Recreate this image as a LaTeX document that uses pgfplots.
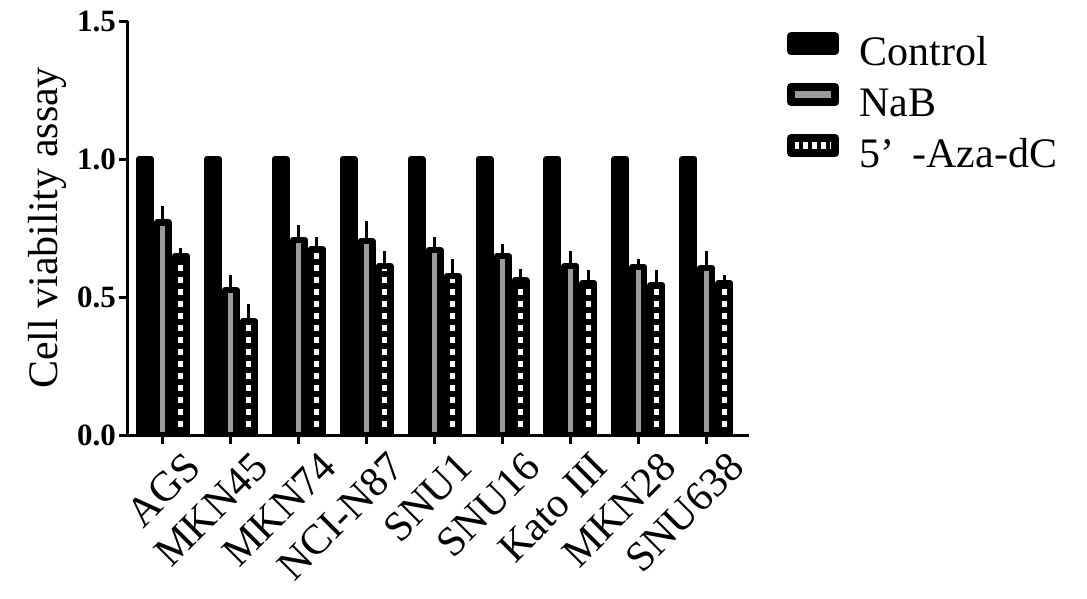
\documentclass[border=0pt]{standalone}
\usepackage{fontspec}
\setmainfont{Liberation Serif}
\usepackage{pgfplots}
\pgfplotsset{compat=1.18}
\usetikzlibrary{patterns.meta}
\definecolor{nabgray}{RGB}{155,155,155}
\begin{document}
\begin{tikzpicture}
\useasboundingbox (-128pt,-163pt) rectangle (959pt,435pt);
\begin{axis}[
  scale only axis, width=621pt, height=414pt,
  xmin=-0.515, xmax=8.63, ymin=0, ymax=1.5,
  ybar=6.5pt, bar width=11.5pt,
  axis lines*=left,
  axis line style={line width=3pt, black},
  tick align=outside, major tick length=9pt,
  tick style={line width=3pt, black},
  ytick={0,0.5,1,1.5},
  yticklabel style={font=\fontsize{31}{31}\selectfont\bfseries, inner sep=0pt, xshift=-3pt,
    /pgf/number format/.cd, fixed, fixed zerofill, precision=1, assume math mode=true},
  xtick={0,1,2,3,4,5,6,7,8},
  xticklabels={AGS,MKN45,MKN74,NCI-N87,SNU1,SNU16,Kato III,MKN28,SNU638},
  xticklabel style={xshift=20pt, yshift=-6pt, rotate=45, anchor=north east, inner sep=0pt, font=\fontsize{42}{42}\selectfont},
  ylabel={Cell viability assay},
  ylabel style={font=\fontsize{42}{42}\selectfont, at={(axis description cs:-0.098,0.5)}, anchor=south, inner sep=0pt},
  legend style={at={(axis description cs:1,1)}, anchor=north west, xshift=38pt, yshift=-11pt,
    draw=none, fill=none, inner sep=0pt, row sep=7.5pt,
    nodes={inner sep=0pt, text height=30pt, text depth=10pt, font=\fontsize{42}{42}\selectfont}},
  legend cell align=left,
]
\addplot[fill=black, draw=black, line width=6.5pt, line join=round,
  legend image code/.code={\draw[black, fill=black, line width=8pt, line join=round] (4pt,4.5pt) rectangle (48pt,19.5pt); \path (64pt,0pt);}]
  coordinates {(0,1) (1,1) (2,1) (3,1) (4,1) (5,1) (6,1) (7,1) (8,1)};
\addlegendentry{Control}
\addplot[fill=nabgray, draw=black, line width=6.5pt, line join=round,
  legend image code/.code={\draw[black, fill=nabgray, line width=8pt, line join=round] (4pt,4.5pt) rectangle (48pt,19.5pt); \path (69pt,0pt);},
  error bars/.cd, y dir=plus, y explicit,
  error bar style={line width=3pt, black},
  error mark options={line width=3pt, black, mark size=5pt}]
  coordinates {
  (0,0.770) +- (0,0.040)
  (1,0.525) +- (0,0.035)
  (2,0.707) +- (0,0.035)
  (3,0.703) +- (0,0.055)
  (4,0.670) +- (0,0.030)
  (5,0.649) +- (0,0.025)
  (6,0.612) +- (0,0.035)
  (7,0.609) +- (0,0.010)
  (8,0.605) +- (0,0.045)};
\addlegendentry{NaB}
\addplot[pattern={Lines[angle=0, distance=12pt, line width=6pt]}, pattern color=black, draw=black, line width=6.5pt, line join=round,
  legend image code/.code={\fill[white] (4pt,4.5pt) rectangle (48pt,19.5pt); \draw[black, pattern={Lines[angle=90, distance=9pt, line width=4pt]}, pattern color=black, line width=8pt, line join=round] (4pt,4.5pt) rectangle (48pt,19.5pt); \path (61pt,0pt);},
  error bars/.cd, y dir=plus, y explicit,
  error bar style={line width=3pt, black},
  error mark options={line width=3pt, black, mark size=5pt}]
  coordinates {
  (0,0.649) +- (0,0.010)
  (1,0.413) +- (0,0.045)
  (2,0.674) +- (0,0.025)
  (3,0.612) +- (0,0.035)
  (4,0.576) +- (0,0.045)
  (5,0.560) +- (0,0.025)
  (6,0.551) +- (0,0.030)
  (7,0.543) +- (0,0.035)
  (8,0.550) +- (0,0.010)};
\addlegendentry{5’\hspace{18pt}-Aza-dC}
\end{axis}
\end{tikzpicture}
\end{document}
